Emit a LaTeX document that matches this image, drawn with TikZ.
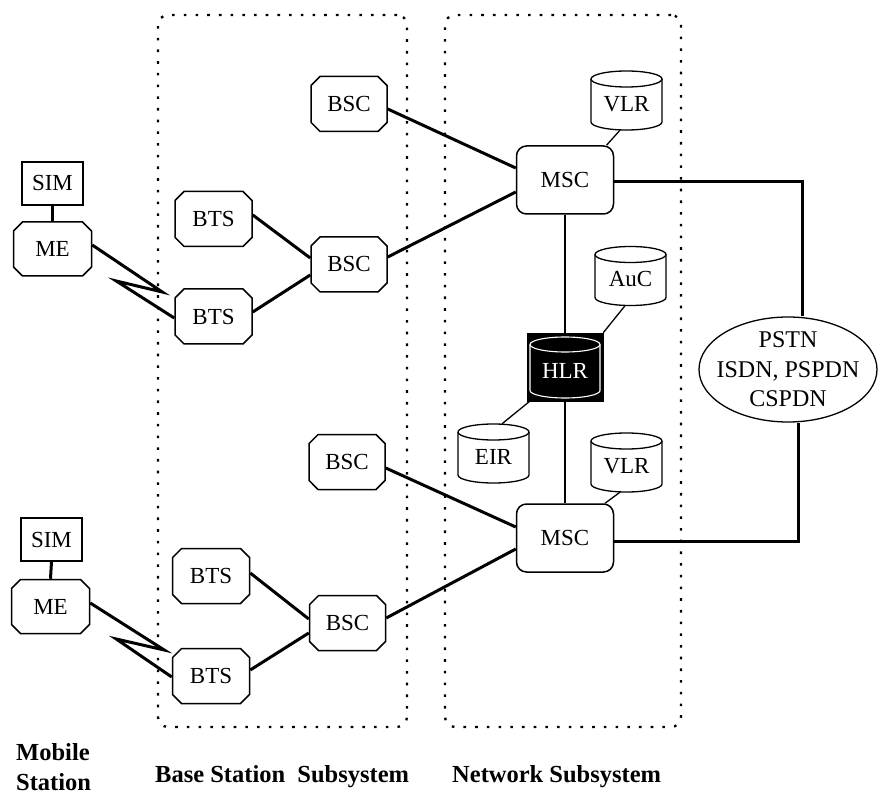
\documentclass[tikz,border=0pt]{standalone}
\usepackage{fontspec}
\setmainfont{Liberation Serif}
\usetikzlibrary{shapes.misc,shapes.geometric,calc}

% database drum: outline drawn around a node of the same size
\newcommand\drum[4]{% name, x, y, label
  \node[drumnode] (#1) at (#2,#3) {#4};
  \draw[thinline] (#2-35.5,#3+21.5) -- (#2-35.5,#3-21.5)
    arc[start angle=180,end angle=360,x radius=35.5pt,y radius=8pt]
    -- (#2+35.5,#3+21.5);
  \draw[thinline] (#2,#3+21.5) ellipse[x radius=35.5pt,y radius=8pt];
}

\begin{document}
\begin{tikzpicture}[x=1pt,y=1pt,
  lbl/.style={font=\fontsize{23}{29}\selectfont},
  capt/.style={font=\fontsize{24.5}{32}\selectfont\bfseries, inner sep=0pt},
  unitbox/.style={chamfered rectangle, chamfered rectangle xsep=6pt,
    draw, line width=1.5pt, minimum width=77pt, minimum height=55pt,
    inner sep=0pt, lbl},
  simbox/.style={rectangle, draw, line width=1.5pt, minimum width=61pt,
    minimum height=43pt, inner sep=0pt, lbl},
  switchbox/.style={rectangle, rounded corners=10pt, draw, line width=1.5pt,
    minimum width=97pt, minimum height=68pt, inner sep=0pt, lbl},
  drumnode/.style={rectangle, minimum width=71pt, minimum height=59pt,
    inner sep=0pt, text height=22pt, text depth=0pt, lbl},
  thinline/.style={line width=1.3pt},
  thickline/.style={line width=3pt},
  frame/.style={draw, line width=2.3pt, dash pattern=on 2.6pt off 9.1pt,
    rounded corners=10pt, minimum height=712pt, inner sep=0pt},
]
\useasboundingbox (0,0) rectangle (880,796);

% subsystem frames
\node[frame, minimum width=249pt] (bss) at (282.5,425) {};
\node[frame, minimum width=236pt] (nss) at (563,425) {};

% mobile stations
\node[simbox] (sim1) at (52.5,612.5) {SIM};
\node[unitbox, minimum width=78pt, minimum height=54pt] (me1) at (52.5,547) {ME};
\node[simbox] (sim2) at (51.5,256.5) {SIM};
\node[unitbox, minimum width=78pt, minimum height=54pt] (me2) at (50.5,189.5) {ME};

% base station subsystem
\node[unitbox] (bts1) at (213.5,577) {BTS};
\node[unitbox] (bts2) at (213.5,479.5) {BTS};
\node[unitbox] (bts3) at (211,220) {BTS};
\node[unitbox] (bts4) at (211,120) {BTS};
\node[unitbox, minimum width=76pt] (bscA) at (349,692) {BSC};
\node[unitbox, minimum width=76pt] (bscB) at (349,531.5) {BSC};
\node[unitbox, minimum width=76pt] (bscC) at (347,334) {BSC};
\node[unitbox, minimum width=76pt] (bscD) at (347.5,173) {BSC};

% network subsystem
\node[switchbox] (msc1) at (565,616) {MSC};
\node[switchbox] (msc2) at (565,258) {MSC};
\drum{vlr1}{626.5}{695.5}{VLR}
\drum{auc}{630.5}{520}{AuC}
\drum{eir}{493.5}{342.5}{EIR}
\drum{vlr2}{626.5}{333.5}{VLR}
\node[rectangle, draw, fill=black, minimum width=76pt, minimum height=68pt,
  inner sep=0pt, text=white, text height=23pt, text depth=0pt, lbl]
  (hlr) at (565,429) {HLR};
\draw[white, line width=1.1pt] (530,451.5) -- (530,405.5)
  arc[start angle=180,end angle=360,x radius=35pt,y radius=7.5pt] -- (600,451.5);
\draw[white, line width=1.1pt] (565,451.5) ellipse[x radius=35pt,y radius=7.5pt];

% fixed networks (negative inner sep keeps the ellipse at its minimum size)
\node[ellipse, draw, line width=1.3pt, minimum width=178pt, minimum height=105pt,
  inner xsep=-25pt, inner ysep=-8pt, align=center,
  font=\fontsize{24}{29.5}\selectfont]
  (pstn) at (788,426.5) {PSTN\\ISDN, PSPDN\\CSPDN};

% captions
\node[capt, anchor=base west] (cms1) at (16,36) {Mobile};
\node[capt, anchor=base west] (cms2) at (16,6) {Station};
\node[capt, anchor=base west] (cbss) at (155,14) {Base Station\ \ Subsystem};
\node[capt, anchor=base west] (cnss) at (452,14) {Network Subsystem};

% SIM to ME
\draw[thickline] (sim1.south) -- (me1.north);
\draw[thickline] (sim2.south) -- (me2.north);

% radio links
\draw[thickline] ([yshift=4pt]me1.east) -- ++(70,-47) -- ++(-46,11)
  -- ([yshift=-1.5pt]bts2.west);
\draw[thickline] ([yshift=3.5pt]me2.east) -- ++(74,-47) -- ++(-48,11)
  -- ([yshift=-1pt]bts4.west);

% BTS to BSC
\draw[thickline] ([yshift=4pt]bts1.east) -- ([yshift=6.5pt]bscB.west);
\draw[thickline] ([yshift=4.5pt]bts2.east) -- ([yshift=-10.5pt]bscB.west);
\draw[thickline] ([yshift=3pt]bts3.east) -- ([yshift=4pt]bscD.west);
\draw[thickline] ([yshift=6pt]bts4.east) -- ([yshift=-10pt]bscD.west);

% BSC to MSC
\draw[thickline] ([yshift=-5pt]bscA.east) -- ([yshift=12pt]msc1.west);
\draw[thickline] ([yshift=7.5pt]bscB.east) -- ([yshift=-12pt]msc1.west);
\draw[thickline] ([yshift=-6pt]bscC.east) -- ([yshift=11pt]msc2.west);
\draw[thickline] ([yshift=5pt]bscD.east) -- ([yshift=-11pt]msc2.west);

% MSC to fixed networks
\draw[thickline] ([yshift=-2pt]msc1.east) -| ([xshift=14pt]pstn.north);
\draw[thickline] ([xshift=10pt]pstn.south) |- ([yshift=-3pt]msc2.east);

% registers
\draw[thinline] ([xshift=41.5pt]msc1.north) -- ([xshift=-6.5pt]vlr1.south);
\draw[thinline] ([xshift=40pt]msc2.north) -- ([xshift=-6.5pt]vlr2.south);
\draw[thinline] (msc1.south) -- (hlr.north);
\draw[thinline] (hlr.south) -- (msc2.north);
\draw[thinline] (hlr.north east) -- ([xshift=-5.5pt]auc.south);
\draw[thinline] ([xshift=3pt]hlr.south west) -- ([xshift=8.5pt]eir.north);
\end{tikzpicture}
\end{document}
